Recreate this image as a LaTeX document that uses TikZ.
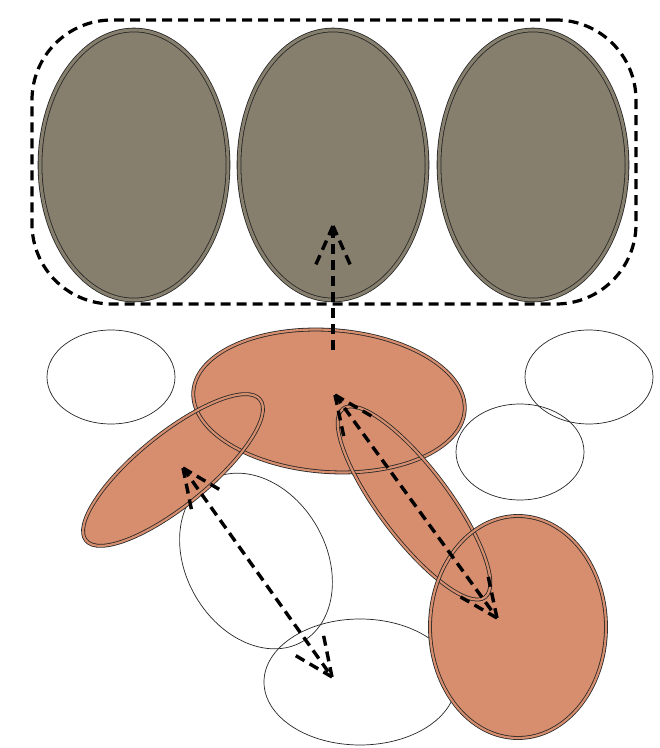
\documentclass[tikz,border=0pt]{standalone}
\usepackage{tikz}
\usetikzlibrary{shapes.geometric,calc}

\definecolor{stonegray}{RGB}{134,127,109}
\definecolor{claypink}{RGB}{214,142,110}

\tikzset{
  blob/.style={ellipse, inner sep=0pt, outer sep=0pt},
  stone/.style={blob, fill=stonegray, draw=black!85, line width=0.8pt, double=stonegray, double distance=3pt},
  clayfill/.style={blob, fill=claypink},
  clayline/.style={blob, draw=black!85, line width=0.8pt, double=claypink, double distance=2.2pt},
  hollow/.style={blob, draw=black!85, line width=0.7pt},
  dashline/.style={line width=3.4pt, dash pattern=on 10pt off 6pt},
}

% two dashed barbs at the tip (#1) of a line coming from (#2)
\newcommand{\drawbarbs}[2]{
  \draw[dashline] (#1) -- ($(#1)!46pt!24:(#2)$);
  \draw[dashline] (#1) -- ($(#1)!46pt!-24:(#2)$);
}

\begin{document}
\begin{tikzpicture}[x=1pt,y=1pt]
  \useasboundingbox (0,0) rectangle (660,748);

  % top row
  \foreach \nm/\px in {g1/134, g2/333, g3/533}
    \node[stone, minimum width=188pt, minimum height=270pt] (\nm) at (\px,583) {};
  \node[draw, line width=3.2pt, dash pattern=on 10pt off 6pt, rounded corners=80pt,
        minimum width=604pt, minimum height=284pt, inner sep=0pt] (group) at (334,586) {};

  % empty ellipses
  \node[hollow, minimum width=128pt, minimum height=94pt] (w1) at (111,371) {};
  \node[hollow, minimum width=128pt, minimum height=94pt] (w2) at (589,371) {};
  \node[hollow, minimum width=128pt, minimum height=96pt] (w3) at (520,296) {};
  \node[hollow, minimum width=186pt, minimum height=140pt, rotate=-60] (w4) at (256,187) {};
  \node[hollow, minimum width=192pt, minimum height=126pt] (w5) at (360,66) {};

  % filled ellipses: fills first, then outlines
  \def\claylist{o1/329/347/272/142/-4, o2/173/278/224/72/39, o3/414/245/236/70/-53, o4/518/121/176/222/0}
  \foreach \nm/\px/\py/\w/\h/\ang in \claylist
    \node[clayfill, minimum width=\w pt, minimum height=\h pt, rotate=\ang] (\nm) at (\px,\py) {};
  \foreach \nm/\px/\py/\w/\h/\ang in \claylist
    \node[clayline, minimum width=\w pt, minimum height=\h pt, rotate=\ang] (\nm-rim) at (\px,\py) {};

  % arrows
  \coordinate (up0) at (333,398);
  \coordinate (up1) at (333,522);
  \coordinate (r0) at (335,353);
  \coordinate (r1) at (497,130);
  \coordinate (l0) at (183,280);
  \coordinate (l1) at (332,71);

  \draw[dashline] (up0) -- (up1);
  \drawbarbs{up1}{up0}
  \draw[dashline] (r0) -- (r1);
  \drawbarbs{r0}{r1}
  \drawbarbs{r1}{r0}
  \draw[dashline] (l0) -- (l1);
  \drawbarbs{l0}{l1}
  \drawbarbs{l1}{l0}
\end{tikzpicture}
\end{document}
